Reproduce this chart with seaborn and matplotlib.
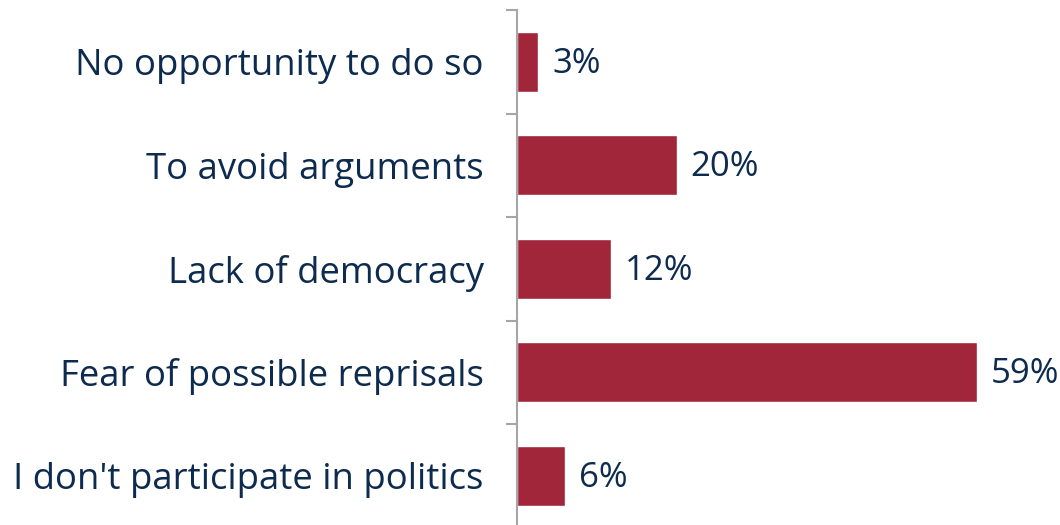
import matplotlib
matplotlib.use("Agg")
import matplotlib.pyplot as plt
from matplotlib.ticker import FixedLocator
import seaborn as sns
import pandas as pd

# reasons, top to bottom
reasons = [
    "No opportunity to do so",
    "To avoid arguments",
    "Lack of democracy",
    "Fear of possible reprisals",
    "I don't participate in politics",
]
shares = [2.7, 20.4, 12.0, 58.8, 6.1]
share_labels = ["3%", "20%", "12%", "59%", "6%"]

bar_color = "#A12639"
text_color = "#0D2B4E"
axis_color = "#A6A6A6"

sns.set_theme(style="white")
plt.rcParams["font.family"] = ["Open Sans", "DejaVu Sans"]

df = pd.DataFrame({"reason": reasons, "share": shares})

fig = plt.figure(figsize=(10.6, 5.25), dpi=100)
ax = fig.add_axes([517 / 1060, -2.5 / 525, 543 / 1060, 517.5 / 525])

sns.barplot(data=df, x="share", y="reason", orient="h", color=bar_color,
            saturation=1, width=0.58, ax=ax)

ax.set_xlim(0, 69.4)
ax.set_ylim(4.5, -0.5)
ax.set_xlabel("")
ax.set_ylabel("")
ax.set_xticks([])

for s in ["top", "right", "bottom"]:
    ax.spines[s].set_visible(False)
ax.spines["left"].set_color(axis_color)
ax.spines["left"].set_linewidth(1.5)

# category labels, no tick marks; boundary ticks as minor
ax.tick_params(axis="y", which="major", length=0, pad=24, labelsize=26.3,
               labelcolor=text_color)
ax.yaxis.set_minor_locator(FixedLocator([-0.5, 0.5, 1.5, 2.5, 3.5, 4.5]))
ax.tick_params(axis="y", which="minor", length=8, width=1.5, color=axis_color,
               left=True)

for i, v in enumerate(shares):
    ax.annotate(share_labels[i], (v, i), xytext=(10, -1.5), textcoords="offset points",
                va="center", ha="left", fontsize=25, color=text_color)

fig.savefig("out.png", dpi=100)
